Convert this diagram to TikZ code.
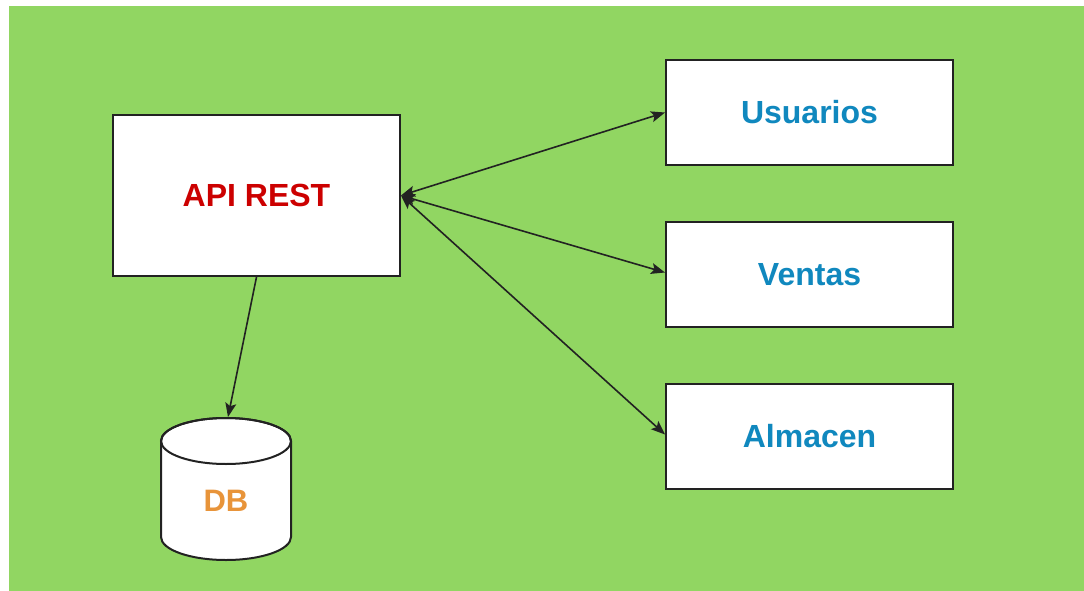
\documentclass[tikz,border=0pt]{standalone}
\usepackage{fontspec}
\setmainfont{Liberation Sans}
\usetikzlibrary{arrows.meta}
\definecolor{bggreen}{RGB}{145,214,98}
\definecolor{apired}{RGB}{204,0,0}
\definecolor{svcblue}{RGB}{16,136,190}
\definecolor{dborange}{RGB}{232,148,58}
\definecolor{edge}{RGB}{34,34,34}
\begin{document}
\begin{tikzpicture}[x=1pt,y=-1pt,
  box/.style={draw=edge,line width=2pt,fill=white,minimum width=287pt,inner sep=0pt,font=\fontsize{32}{36}\selectfont\bfseries},
  svc/.style={box,minimum height=105pt,text=svcblue},
  tip/.tip={Stealth[length=14pt,width=11pt,inset=3pt]},
  conn/.style={draw=edge,line width=1.6pt,-tip},
  dconn/.style={draw=edge,line width=1.6pt,tip-tip}]
\useasboundingbox (0,0) rectangle (1084,591);
\fill[bggreen] (9,6) rectangle (1084,591);
\node[box,minimum height=161pt,text=apired] (api) at (256.5,195.5) {\raisebox{-1.5pt}{API REST}};
\node[svc] (usu) at (809.5,112.5) {Usuarios};
\node[svc] (ven) at (809.5,274.5) {Ventas};
\node[svc] (alm) at (809.5,436.5) {Almacen};
% DB cylinder
\filldraw[draw=edge,fill=white,line width=2pt] (161,441) -- (161,537) arc[start angle=180,end angle=360,x radius=65,y radius=-23] -- (291,441) arc[start angle=0,end angle=180,x radius=65,y radius=-23] -- cycle;
\draw[edge,line width=2pt] (226,441) ellipse[x radius=65,y radius=23];
\node[text=dborange,font=\fontsize{31}{36}\selectfont\bfseries] (dblabel) at (226,501) {DB};
\coordinate (db) at (228,417);
\draw[dconn] (api.east) -- (usu.west);
\draw[dconn] (api.east) -- ([yshift=2pt]ven.west);
\draw[dconn] (api.east) -- ([yshift=2pt]alm.west);
\draw[conn] (api.south) -- (db);
\end{tikzpicture}
\end{document}
